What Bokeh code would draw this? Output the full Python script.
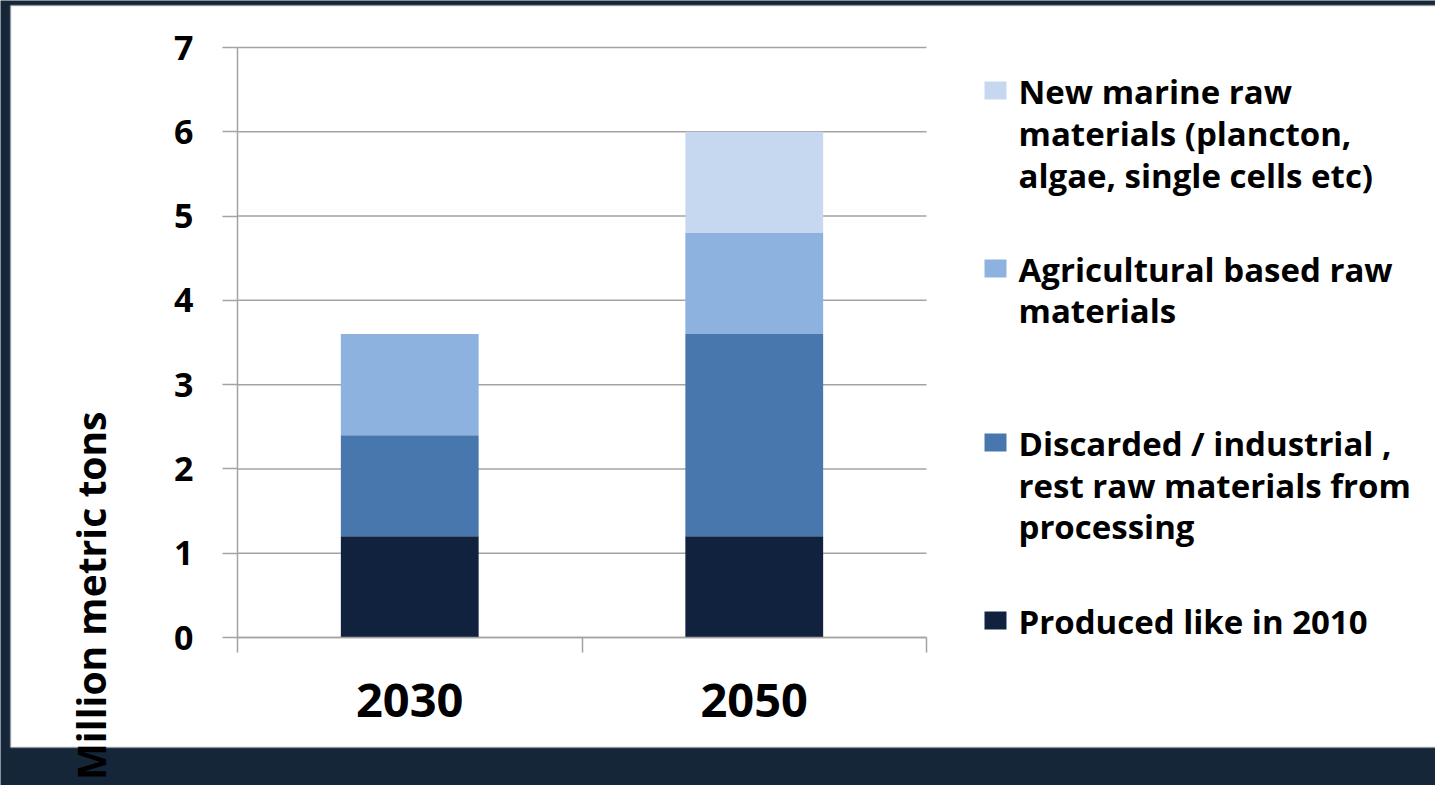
from math import pi
from bokeh.plotting import figure
from bokeh.models import (ColumnDataSource, Range1d, LinearAxis, FixedTicker, Label, BoxAnnotation)
from bokeh.embed import file_html
from bokeh.resources import INLINE

# ---- data ----
years = ["2030", "2050"]
series = ["Produced like in 2010",
          "Discarded / industrial , rest raw materials from processing",
          "Agricultural based raw materials",
          "New marine raw materials (plancton, algae, single cells etc)"]
produced = [1.2, 1.2]
discarded = [1.2, 2.4]
agricultural = [1.2, 1.2]
new_marine = [0.0, 1.2]
y_ticks = [0, 1, 2, 3, 4, 5, 6, 7]
y_label = "Million metric tons"
legend_lines = [
    ["New marine raw", "materials (plancton,", "algae, single cells etc)"],
    ["Agricultural based raw", "materials"],
    ["Discarded / industrial ,", "rest raw materials from", "processing"],
    ["Produced like in 2010"],
]
colors = ["#11223e", "#4877ae", "#8db2e0", "#c6d8f0"]
legend_colors = list(reversed(colors))

# ---- layout (canvas px, top-left origin) ----
W, H = 1435, 785
PL, PR, PT, PB = 237, 926, 47, 637      # where the plotting area sits on the canvas
FONT = "Open Sans"
GRID = "#a3a3a3"
n = len(years)
ymax = y_ticks[-1]
xpx = (PR - PL) / n
ypx = (PB - PT) / ymax


def sx(cx):
    return cx


def sy(cy):
    return H - cy


xpos = [i + 0.5 for i in range(n)]
keys = ["produced", "discarded", "agricultural", "new_marine"]
source = ColumnDataSource(dict(x=xpos, year=years, produced=produced, discarded=discarded,
                               agricultural=agricultural, new_marine=new_marine))

p = figure(width=W, height=H,
           x_range=Range1d(-PL / xpx, n + (W - PR) / xpx),
           y_range=Range1d(-(H - PB) / ypx, ymax + PT / ypx),
           output_backend="svg", toolbar_location=None, x_axis_location=None,
           y_axis_location=None, min_border=0)
p.background_fill_color = "#152638"
p.border_fill_color = "#152638"
p.outline_line_color = None
p.grid.visible = False

# white panel
panel = BoxAnnotation(left=sx(10), right=sx(1437), top=sy(5), bottom=sy(747),
                      left_units="screen", right_units="screen", top_units="screen",
                      bottom_units="screen", fill_color="white", fill_alpha=1.0,
                      line_color="#9a9a9a", line_width=2, level="image")
p.add_layout(panel)

# gridlines
p.segment(x0=0, x1=n, y0=y_ticks, y1=y_ticks, line_color=GRID, line_width=1.5)

p.vbar_stack(keys, x="x", width=0.4, color=colors, source=source, line_color=None)

# axes (drawn at fixed data locations)
yax = LinearAxis(fixed_location=0, bounds=(0, ymax), ticker=FixedTicker(ticks=y_ticks),
                 major_tick_out=15, major_tick_in=0, minor_tick_line_color=None,
                 axis_line_color=GRID, axis_line_width=1.5, major_tick_line_color=GRID,
                 major_tick_line_width=1.5, major_label_standoff=29,
                 major_label_text_font=FONT, major_label_text_font_style="bold",
                 major_label_text_font_size="34px", major_label_text_color="black")
p.add_layout(yax, "left")

ax_ticks = LinearAxis(fixed_location=0, bounds=(0, n),
                      ticker=FixedTicker(ticks=list(range(n + 1))),
                      major_label_overrides={i: " " for i in range(n + 1)},
                      major_tick_out=15, major_tick_in=0, major_label_text_color=None,
                      axis_line_color=GRID, axis_line_width=1.5,
                      major_tick_line_color=GRID, major_tick_line_width=1.5,
                      minor_tick_line_color=None)
p.add_layout(ax_ticks, "below")
ax_lab = LinearAxis(fixed_location=0, ticker=FixedTicker(ticks=xpos),
                    major_label_overrides={x: y for x, y in zip(xpos, years)},
                    axis_line_color=None, major_tick_line_color=None, minor_tick_line_color=None,
                    major_tick_out=0, major_tick_in=0,
                    major_label_text_font=FONT, major_label_text_font_style="bold",
                    major_label_text_font_size="47px", major_label_text_color="black",
                    major_label_standoff=46)
p.add_layout(ax_lab, "below")

# y axis title
p.add_layout(Label(x=sx(90), y=sy(411), x_units="screen", y_units="screen", text=y_label,
                   angle=pi / 2, text_align="right", text_baseline="alphabetic",
                   text_font=FONT, text_font_style="bold", text_font_size="39px",
                   text_color="black"))

# legend
baselines = [[102, 144, 186], [280, 321], [454, 496, 537], [632]]
for lines, bls, col in zip(legend_lines, baselines, legend_colors):
    p.add_layout(BoxAnnotation(left=sx(984), right=sx(1006), top=sy(bls[0] - 21),
                               bottom=sy(bls[0] - 3), left_units="screen", right_units="screen",
                               top_units="screen", bottom_units="screen", fill_color=col,
                               fill_alpha=1.0, line_color=None))
    for txt, bl in zip(lines, bls):
        p.add_layout(Label(x=sx(1018), y=sy(bl - 11), x_units="screen", y_units="screen",
                           text=txt, text_align="left", text_baseline="alphabetic",
                           text_font=FONT, text_font_style="bold", text_font_size="33px",
                           text_color="black"))

open("out.html", "w").write(file_html(p, INLINE))
